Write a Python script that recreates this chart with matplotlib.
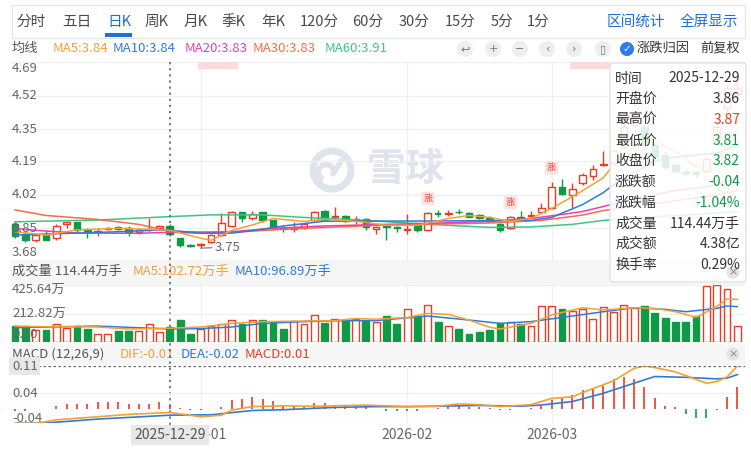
import numpy as np
import matplotlib
matplotlib.use('Agg')
import matplotlib.pyplot as plt
import matplotlib.transforms as mtransforms
from matplotlib.patches import Rectangle, FancyBboxPatch, Circle, Arc

plt.rcParams['font.family'] = ['Noto Sans CJK SC', 'DejaVu Sans']

# daily candles, 2025-12-08 .. 2026-03-26
opens = [3.87, 3.82, 3.79, 3.82, 3.80, 3.87, 3.88, 3.84, 3.83, 3.845,
         3.855, 3.85, 3.83, 3.84, 3.85, 3.86, 3.80, 3.765, 3.765, 3.78,
         3.815, 3.86, 3.93, 3.90, 3.93, 3.89, 3.85, 3.845, 3.85, 3.89,
         3.94, 3.905, 3.91, 3.89, 3.895, 3.845, 3.86, 3.855, 3.84, 3.865,
         3.84, 3.925, 3.92, 3.935, 3.925, 3.915, 3.90, 3.87, 3.85, 3.905,
         3.91, 3.93, 3.955, 4.06, 4.02, 4.08, 4.115, 4.17, 4.18, 4.26,
         4.37, 4.36, 4.27, 4.22, 4.17, 4.135, 4.135, 4.14, 4.29, 4.46, 4.53]
highs = [3.88, 3.83, 3.82, 3.84, 3.87, 3.88, 3.88, 3.85, 3.85, 3.855,
         3.86, 3.86, 3.85, 3.90, 3.865, 3.87, 3.80, 3.77, 3.775, 3.82,
         3.925, 3.94, 3.935, 3.94, 3.935, 3.89, 3.86, 3.88, 3.87, 3.94,
         3.945, 3.96, 3.915, 3.91, 3.90, 3.86, 3.865, 3.86, 3.92, 3.87,
         3.93, 3.945, 3.945, 3.95, 3.93, 3.92, 3.91, 3.875, 3.91, 3.94,
         3.94, 3.98, 4.085, 4.10, 4.08, 4.13, 4.17, 4.24, 4.25, 4.40,
         4.44, 4.37, 4.28, 4.24, 4.18, 4.15, 4.14, 4.21, 4.38, 4.58, 4.60]
lows = [3.80, 3.78, 3.78, 3.79, 3.79, 3.85, 3.83, 3.80, 3.81, 3.84,
        3.84, 3.81, 3.82, 3.835, 3.845, 3.81, 3.755, 3.755, 3.75, 3.775,
        3.81, 3.855, 3.88, 3.89, 3.88, 3.84, 3.83, 3.83, 3.845, 3.885,
        3.89, 3.895, 3.88, 3.87, 3.84, 3.82, 3.79, 3.83, 3.82, 3.83,
        3.835, 3.905, 3.91, 3.92, 3.905, 3.895, 3.88, 3.83, 3.845, 3.895,
        3.90, 3.925, 3.95, 4.02, 3.955, 4.07, 4.095, 4.165, 4.17, 4.25,
        4.36, 4.25, 4.19, 4.15, 4.13, 4.12, 4.11, 4.13, 4.28, 4.44, 4.50]
closes = [3.81, 3.79, 3.815, 3.79, 3.86, 3.88, 3.84, 3.835, 3.835, 3.85,
          3.845, 3.83, 3.84, 3.845, 3.86, 3.82, 3.765, 3.76, 3.77, 3.815,
          3.875, 3.93, 3.90, 3.92, 3.89, 3.85, 3.845, 3.85, 3.87, 3.935,
          3.89, 3.91, 3.885, 3.895, 3.855, 3.855, 3.855, 3.85, 3.845, 3.84,
          3.925, 3.922, 3.925, 3.93, 3.905, 3.90, 3.885, 3.84, 3.905, 3.90,
          3.915, 3.955, 4.06, 4.025, 4.05, 4.12, 4.15, 4.175, 4.24, 4.36,
          4.40, 4.27, 4.21, 4.16, 4.14, 4.13, 4.125, 4.20, 4.36, 4.56, 4.56]
# volume in 万手
volumes = [119, 119, 90, 90, 132, 107, 119, 97, 57, 57,
           82, 82, 82, 132, 72, 114.44, 164, 60, 97, 119,
           132, 162, 132, 162, 162, 152, 97, 157, 132, 199,
           144, 169, 164, 169, 157, 152, 194, 134, 246, 194,
           276, 152, 119, 97, 60, 75, 90, 144, 152, 134,
           119, 269, 269, 246, 231, 246, 172, 259, 226, 276,
           251, 269, 219, 177, 152, 152, 194, 418, 425.64, 396, 119]
macd_hist = [-0.005, -0.005, -0.001, 0.001, 0.008, 0.012, 0.012, 0.012, 0.017, 0.017,
             0.017, 0.012, 0.012, 0.012, 0.017, 0.01, 0.003, -0.003, -0.003, 0.001,
             0.006, 0.022, 0.026, 0.03, 0.025, 0.02, 0.01, 0.008, 0.006, 0.015,
             0.015, 0.01, 0.01, 0.006, 0.004, 0.001, -0.004, -0.004, -0.004, -0.004,
             0.001, 0.003, 0.008, 0.01, 0.006, 0.004, 0.003, -0.003, -0.003, 0.001,
             0.003, 0.007, 0.023, 0.029, 0.036, 0.048, 0.053, 0.059, 0.077, 0.083,
             0.077, 0.055, 0.027, 0.007, 0.004, -0.013, -0.024, -0.024, -0.002, 0.031, 0.055]

# moving average lines, sampled at candle indices
ma5_idx = [0, 3, 6, 10, 13, 15, 18, 19, 21, 23, 25, 28, 30, 32, 34, 36, 39, 42, 44, 46,
           48, 50, 52, 55, 57, 58, 60, 62, 64, 66, 68, 70]
ma5_val = [3.833, 3.816, 3.842, 3.85, 3.845, 3.84, 3.80, 3.79, 3.84, 3.867, 3.90, 3.885,
           3.895, 3.89, 3.88, 3.865, 3.865, 3.90, 3.915, 3.905, 3.885, 3.90, 3.95, 4.04,
           4.105, 4.17, 4.265, 4.29, 4.24, 4.16, 4.19, 4.34]
ma10_idx = [0, 6, 10, 14, 16, 18, 21, 23, 26, 30, 40, 50, 52, 55, 57, 58, 60, 62, 64, 66, 68, 70]
ma10_val = [3.816, 3.826, 3.833, 3.842, 3.835, 3.825, 3.826, 3.838, 3.862, 3.886, 3.887,
            3.89, 3.905, 3.97, 4.03, 4.07, 4.13, 4.19, 4.21, 4.22, 4.23, 4.27]
ma20_idx = [0, 2, 6, 12, 15, 18, 21, 25, 30, 36, 42, 46, 50, 53, 55, 57, 60, 64, 67, 70]
ma20_val = [3.85, 3.84, 3.826, 3.825, 3.83, 3.826, 3.833, 3.85, 3.862, 3.87, 3.878, 3.885,
            3.90, 3.92, 3.935, 3.96, 4.00, 4.04, 4.06, 4.10]
ma30_idx = [0, 3, 8, 12, 15, 18, 22, 27, 35, 46, 51, 55, 57, 60, 64, 67, 70]
ma30_val = [3.943, 3.915, 3.895, 3.87, 3.835, 3.832, 3.833, 3.848, 3.865, 3.877, 3.89,
            3.917, 3.94, 3.96, 3.99, 4.01, 4.04]
ma60_idx = [0, 8, 15, 19, 24, 28, 34, 38, 42, 46, 50, 54, 57, 62, 66, 70]
ma60_val = [3.883, 3.892, 3.909, 3.918, 3.918, 3.905, 3.89, 3.877, 3.865, 3.855, 3.857,
            3.87, 3.89, 3.91, 3.92, 3.935]

vma5_idx = [0, 2, 5, 8, 11, 15, 18, 21, 24, 28, 31, 33, 35, 38, 40, 42, 44, 46, 47, 50,
            52, 55, 57, 60, 62, 64, 66, 68, 69, 70]
vma5_val = [119, 115, 115, 112, 97, 103, 112, 139, 152, 157, 160, 175, 170, 183, 214, 206,
            164, 110, 97, 139, 202, 256, 239, 256, 251, 226, 184, 264, 321, 318]
vma10_idx = [0, 8, 15, 18, 21, 24, 28, 31, 35, 40, 44, 47, 50, 54, 57, 60, 63, 65, 68, 69, 70]
vma10_val = [107, 119, 97, 100, 112, 139, 152, 159, 160, 194, 164, 139, 152, 194, 226, 256,
             244, 226, 251, 269, 264]

dif_idx = [0, 2, 4, 8, 11, 15, 18, 20, 21, 23, 26, 29, 31, 34, 38, 41, 43, 45, 47, 50,
           52, 54, 55, 58, 60, 61, 62, 64, 67, 68, 69, 70]
dif_val = [-0.037, -0.037, -0.028, -0.02, -0.014, -0.009, -0.02, -0.016, -0.003, 0.006,
           0.008, 0.007, 0.008, 0.01, 0.006, 0.007, 0.013, 0.011, 0.006, 0.011, 0.027,
           0.031, 0.042, 0.072, 0.104, 0.11, 0.106, 0.095, 0.066, 0.07, 0.082, 0.11]
dea_idx = [0, 3, 8, 15, 19, 23, 26, 31, 35, 38, 41, 45, 49, 51, 54, 57, 60, 62, 65, 68, 69, 70]
dea_val = [-0.037, -0.036, -0.026, -0.016, -0.015, -0.004, -0.002, 0.004, 0.006, 0.006,
           0.007, 0.009, 0.007, 0.01, 0.019, 0.04, 0.066, 0.083, 0.081, 0.077, 0.079, 0.088]

price_ticks = [4.69, 4.52, 4.35, 4.19, 4.02, 3.85, 3.68]
vol_ticks = [425.64, 212.82, 0.0]
vol_tick_labels = ['425.64万', '212.82万', '0.00']
macd_ticks = [0.11, 0.04, -0.04]
month_idx = [18, 38, 52]
month_labels = ['2026-01', '2026-02', '2026-03']
cross_idx = 15
cross_label = '2025-12-29'
low_idx, low_val = 18, 3.75
zhang_idx = [40, 48, 52]
event_spans = [(17.7, 21.6), (53.8, 57.7)]

tabs = ['分时', '五日', '日K', '周K', '月K', '季K', '年K', '120分', '60分', '30分', '15分', '5分', '1分']
tab_x = [31, 77, 119, 157, 196, 234, 273, 319, 368, 414, 460, 502, 538]
tip_labels = ['时间', '开盘价', '最高价', '最低价', '收盘价', '涨跌额', '涨跌幅', '成交量', '成交额', '换手率']
tip_values = ['2025-12-29', '3.86', '3.87', '3.81', '3.82', '-0.04', '-1.04%', '114.44万手', '4.38亿', '0.29%']

RED = '#ec3a24'
GREEN = '#0f9a45'
ORANGE = '#f5a033'
BLUE = '#2f7bd8'
PINK = '#e83fb7'
CORAL = '#ff6a48'
MINT = '#3ec585'
BRAND = '#1f6fd6'
GRID = '#f0f0f0'
TXT = '#666666'
MARK = '#dfe3eb'

W, H = 751, 455
fig = plt.figure(figsize=(W / 100, H / 100), dpi=100)


def px_axes(left, top, right, bottom, z):
    ax = fig.add_axes([left / W, 1 - bottom / H, (right - left) / W, (bottom - top) / H], zorder=z)
    ax.set_facecolor('none')
    ax.axis('off')
    return ax


bg = px_axes(0, 0, W, H, 0)
bg.set_xlim(0, W)
bg.set_ylim(H, 0)
fg = px_axes(0, 0, W, H, 10)
fg.set_xlim(0, W)
fg.set_ylim(H, 0)

ax_p = px_axes(10, 62, 745, 262, 2)
ax_v = px_axes(10, 285, 745, 342, 2)
ax_m = px_axes(10, 366, 745, 423, 2)
for ax in (ax_p, ax_v, ax_m):
    ax.set_xlim(-0.484, 70.74)
ax_p.set_ylim(3.68, 4.69)
ax_v.set_ylim(0, 425.64)
ax_m.set_ylim(-0.036, 0.11)

# ---- header ----
bg.add_patch(Rectangle((12, 5), 733, 33, fill=False, ec='#e6e6e6', lw=1))
for t, x in zip(tabs, tab_x):
    bg.text(x, 22, t, ha='center', va='center', fontsize=10.5,
            color=BRAND if t == '日K' else '#4a4a4a')
bg.add_patch(Rectangle((105, 33), 27, 4, color=BRAND, lw=0))
bg.text(636, 22, '区间统计', ha='center', va='center', fontsize=10.5, color=BRAND)
bg.text(709, 22, '全屏显示', ha='center', va='center', fontsize=10.5, color=BRAND)

bg.text(12, 48, '均线', va='center', fontsize=9.5, color='#555555')
for x, t, c in zip([53, 113, 185, 253, 325],
                   ['MA5:3.84', 'MA10:3.84', 'MA20:3.83', 'MA30:3.83', 'MA60:3.91'],
                   [ORANGE, BLUE, PINK, CORAL, MINT]):
    bg.text(x, 48, t, va='center', fontsize=9.5, color=c)

for x, g in zip([465, 493, 520, 547, 574, 603], ['↩', '+', '−', '‹', '›', '▯']):
    bg.add_patch(Circle((x, 49), 8, color='#eeeeee', lw=0))
    bg.text(x, 49, g, ha='center', va='center', fontsize=8, color='#777777',
            family='DejaVu Sans')
bg.add_patch(Circle((627, 49), 7, color='#2f7bea', lw=0))
bg.text(627, 49, '✓', ha='center', va='center', fontsize=7.5, color='white',
        family='DejaVu Sans', weight='bold')
bg.text(637, 48, '涨跌归因', va='center', fontsize=9.5, color='#333333')
bg.text(700, 48, '前复权', va='center', fontsize=9.5, color='#333333')

# watermark
bg.add_patch(Circle((332, 170), 19, fill=False, ec=MARK, lw=5))
bg.add_patch(Arc((326, 172), 15, 15, theta1=110, theta2=350, ec=MARK, lw=4))
bg.plot([333, 341], [174, 161], color=MARK, lw=4, solid_capstyle='round')
bg.text(406, 170, '雪球', ha='center', va='center', fontsize=28, weight='bold', color=MARK)

# label bands
bg.add_patch(Rectangle((10, 260), 735, 25, color='#f6f6f6', lw=0))
bg.add_patch(Rectangle((10, 344), 735, 21, color='#f6f6f6', lw=0))
bg.text(12, 271, '成交量 114.44万手', va='center', fontsize=9.5, color='#555555')
bg.text(133, 271, 'MA5:102.72万手', va='center', fontsize=9.5, color=ORANGE)
bg.text(235, 271, 'MA10:96.89万手', va='center', fontsize=9.5, color=BLUE)
bg.text(12, 354, 'MACD (12,26,9)', va='center', fontsize=9.5, color='#555555')
bg.text(120, 354, 'DIF:-0.01', va='center', fontsize=9.5, color=ORANGE)
bg.text(181, 354, 'DEA:-0.02', va='center', fontsize=9.5, color=BLUE)
bg.text(245, 354, 'MACD:0.01', va='center', fontsize=9.5, color=RED)

# ---- price panel ----
for v in price_ticks:
    ax_p.axhline(v, color=GRID, lw=1, zorder=0)
for ax in (ax_p, ax_v, ax_m):
    for i in month_idx:
        ax.axvline(i, color=GRID, lw=1, zorder=0)
for s, e in event_spans:
    ax_p.add_patch(Rectangle((s, 4.655), e - s, 0.035, color='#fbdada', lw=0, zorder=1))

tr_p = mtransforms.blended_transform_factory(ax_p.transAxes, ax_p.transData)
for v in price_ticks:
    dy = -6 if v == price_ticks[0] else (10 if v == price_ticks[-1] else 0)
    ax_p.annotate(f'{v:.2f}', xy=(0, v), xycoords=tr_p, xytext=(2, dy),
                  textcoords='offset pixels', va='center', fontsize=9.5, color=TXT, zorder=6)

body_w = 0.64
for i, (o, h, l, c) in enumerate(zip(opens, highs, lows, closes)):
    col = RED if c >= o else GREEN
    lo, hi = min(o, c), max(o, c)
    ax_p.vlines(i, l, lo, color=col, lw=1, zorder=2)
    ax_p.vlines(i, hi, h, color=col, lw=1, zorder=2)
    if hi - lo < 0.004:
        ax_p.hlines((o + c) / 2, i - body_w / 2, i + body_w / 2, color=col, lw=1.6, zorder=2)
    else:
        ax_p.add_patch(Rectangle((i - body_w / 2, lo), body_w, hi - lo,
                                 fc='white' if c >= o else col, ec=col, lw=1, zorder=2))

ax_p.plot(ma60_idx, ma60_val, color=MINT, lw=1.1, zorder=3)
ax_p.plot(ma30_idx, ma30_val, color=CORAL, lw=1.1, zorder=3)
ax_p.plot(ma20_idx, ma20_val, color=PINK, lw=1.1, zorder=3)
ax_p.plot(ma10_idx, ma10_val, color=BLUE, lw=1.1, zorder=3)
ax_p.plot(ma5_idx, ma5_val, color=ORANGE, lw=1.1, zorder=3)

ax_p.annotate(f'{low_val:.2f}', xy=(low_idx, low_val), xytext=(14, 1), textcoords='offset pixels',
              va='center', fontsize=9.5, color=TXT,
              arrowprops=dict(arrowstyle='-', color='#777777', lw=0.8, shrinkA=0, shrinkB=0))
for i in zhang_idx:
    ax_p.annotate('涨', xy=(i, highs[i]), xytext=(0, 14), textcoords='offset pixels',
                  ha='center', va='center', fontsize=6.5, color=RED, zorder=5,
                  bbox=dict(boxstyle='round,pad=0.25,rounding_size=0.2', fc='#fde4e2', ec='none'))

# ---- volume panel ----
for v in vol_ticks[:2]:
    ax_v.axhline(v, color=GRID, lw=1, zorder=0)
vol_cols = [RED if c >= o else GREEN for o, c in zip(opens, closes)]
vol_fc = ['white' if c == RED else c for c in vol_cols]
ax_v.bar(range(len(volumes)), volumes, width=0.66, color=vol_fc, edgecolor=vol_cols, lw=1, zorder=2)
ax_v.plot(vma10_idx, vma10_val, color=BLUE, lw=1.1, zorder=3)
ax_v.plot(vma5_idx, vma5_val, color=ORANGE, lw=1.1, zorder=3)
tr_v = mtransforms.blended_transform_factory(ax_v.transAxes, ax_v.transData)
for v, t, dy in zip(vol_ticks, vol_tick_labels, [-4, 0, 8]):
    ax_v.annotate(t, xy=(0, v), xycoords=tr_v, xytext=(2, dy), textcoords='offset pixels',
                  va='center', fontsize=9.5, color=TXT, zorder=6)

# ---- MACD panel ----
ax_m.axhline(0.04, color=GRID, lw=1, zorder=0)
ax_m.axhline(-0.036, color=GRID, lw=1, zorder=0)
hist_cols = [RED if v >= 0 else GREEN for v in macd_hist]
ax_m.vlines(range(len(macd_hist)), 0, macd_hist, colors=hist_cols, lw=1.2, zorder=2)
ax_m.plot(dea_idx, dea_val, color=BLUE, lw=1.2, zorder=3)
ax_m.plot(dif_idx, dif_val, color=ORANGE, lw=1.2, zorder=3)
ax_m.axhline(macd_ticks[0], xmin=28 / 735, color='#666666', lw=0.9, ls=(0, (2, 2)), zorder=4)
tr_m = mtransforms.blended_transform_factory(ax_m.transAxes, ax_m.transData)
for v, dy in zip(macd_ticks, [0, 0, 6]):
    box = dict(boxstyle='square,pad=0.2', fc='#e8e8e8', ec='none') if v == macd_ticks[0] else None
    ax_m.annotate(f'{v:.2f}', xy=(0, v), xycoords=tr_m, xytext=(2, dy), textcoords='offset pixels',
                  va='center', fontsize=9.5, color=TXT, zorder=6, bbox=box)

tr_x = mtransforms.blended_transform_factory(ax_m.transData, ax_m.transAxes)
for i, t in zip(month_idx, month_labels):
    ax_m.annotate(t, xy=(i, 0), xycoords=tr_x, xytext=(0, -12), textcoords='offset pixels',
                  ha='center', va='center', fontsize=10, color=TXT, zorder=5)
ax_m.annotate(cross_label, xy=(cross_idx, 0), xycoords=tr_x, xytext=(0, -12),
              textcoords='offset pixels', ha='center', va='center', fontsize=10, color='#555555',
              zorder=7, bbox=dict(boxstyle='square,pad=0.25', fc='#e8e8e8', ec='none'))

# crosshair through all panels
tr_c = mtransforms.blended_transform_factory(ax_p.transData, fig.transFigure)
ax_p.plot([cross_idx, cross_idx], [1 - 62 / H, 1 - 428 / H], transform=tr_c, clip_on=False,
          color='#555555', lw=1.1, ls=(0, (1.5, 2.5)), zorder=6)

# ---- tooltip ----
fg.add_patch(FancyBboxPatch((610, 63), 136, 219, boxstyle='round,pad=0,rounding_size=3',
                            fc=(1, 1, 1, 0.86), ec='#e2e2e2', lw=1))
tip_cols = ['#333333', '#333333', RED, GREEN, GREEN, GREEN, GREEN, '#333333', '#333333', '#333333']
for k, (lab, val, col) in enumerate(zip(tip_labels, tip_values, tip_cols)):
    y = 78.5 + k * 20.7
    fg.text(615, y, lab, va='center', fontsize=10, color='#333333')
    fg.text(740, y, val, va='center', ha='right', fontsize=10, color=col)
for y in (272, 354):
    fg.add_patch(Circle((733, y), 6.5, color='#e3e3e3', lw=0))
    fg.text(733, y, '×', ha='center', va='center', fontsize=8, color='#888888', family='DejaVu Sans')

fig.savefig('out.png', dpi=100)
